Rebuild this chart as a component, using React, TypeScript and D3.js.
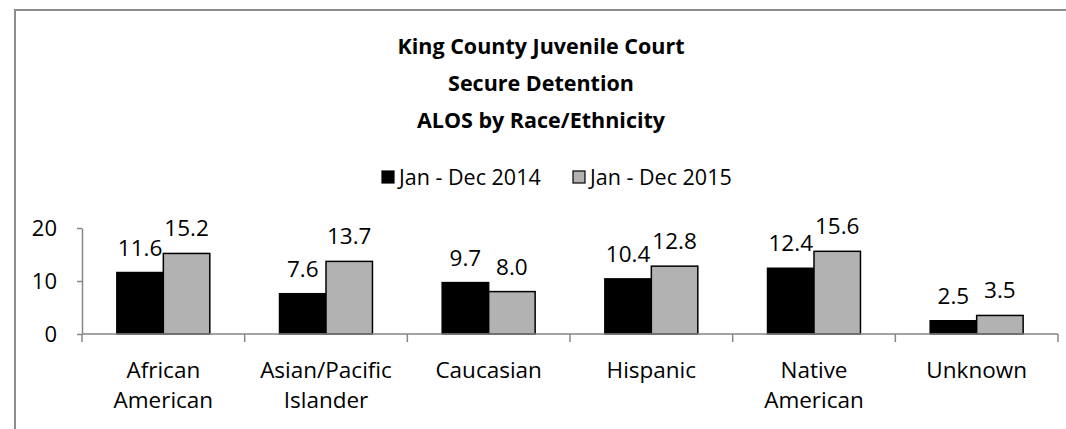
// ALOS by Race/Ethnicity grouped bar chart
import React, { useRef, useEffect } from 'react';
import * as d3 from 'd3';

const CATEGORIES = ['African American', 'Asian/Pacific Islander', 'Caucasian', 'Hispanic', 'Native American', 'Unknown'];
const CATEGORY_LINES = [['African', 'American'], ['Asian/Pacific', 'Islander'], ['Caucasian'], ['Hispanic'], ['Native', 'American'], ['Unknown']];
const SERIES = ['Jan - Dec 2014', 'Jan - Dec 2015'];
const VALUES_2014 = [11.6, 7.6, 9.7, 10.4, 12.4, 2.5];
const VALUES_2015 = [15.2, 13.7, 8.0, 12.8, 15.6, 3.5];
const Y_TICKS = [0, 10, 20];
const TITLE_LINES = ['King County Juvenile Court', 'Secure Detention', 'ALOS by Race/Ethnicity'];

const COLORS = ['#000000', '#b2b2b2'];
const FONT = "'Open Sans', 'Noto Sans', sans-serif";
const AXIS_COLOR = '#868686';

export default function App() {
  const svgRef = useRef<SVGSVGElement | null>(null);

  useEffect(() => {
    if (!svgRef.current) return;
    const svg = d3.select(svgRef.current);
    svg.selectAll('*').remove();

    const W = 1066, H = 429;
    const left = 82, right = 1058, top = 228, bottom = 334;

    // outer frame (runs off right and bottom edges)
    svg.append('rect')
      .attr('x', 15).attr('y', 10)
      .attr('width', W + 100).attr('height', H + 100)
      .attr('fill', '#fff')
      .attr('stroke', '#8c8c8c')
      .attr('stroke-width', 2);

    // title
    svg.append('g').selectAll('text')
      .data(TITLE_LINES)
      .join('text')
      .attr('x', 541)
      .attr('y', (_, i) => 54 + i * 37)
      .attr('text-anchor', 'middle')
      .style('font-family', FONT)
      .style('font-weight', '700')
      .style('font-size', '21.5px')
      .text(d => d);

    // legend
    const legendX = [382, 573];
    const legend = svg.append('g');
    SERIES.forEach((name, i) => {
      legend.append('rect')
        .attr('x', legendX[i]).attr('y', 171)
        .attr('width', 12).attr('height', 12)
        .attr('fill', COLORS[i])
        .attr('stroke', '#000')
        .attr('stroke-width', 1.2);
      legend.append('text')
        .attr('x', legendX[i] + 17).attr('y', 185)
        .style('font-family', FONT)
        .style('font-size', '21.5px')
        .text(name);
    });

    const x0 = d3.scaleBand<string>().domain(CATEGORIES).range([left, right]).paddingInner(0).paddingOuter(0);
    const x1 = d3.scaleBand<string>().domain(SERIES).range([0, x0.bandwidth()]).paddingInner(0).paddingOuter(0.75);
    const y = d3.scaleLinear().domain([0, 20]).range([bottom, top]);

    // y axis
    const yAxis = svg.append('g')
      .attr('transform', `translate(${left},0)`)
      .call(d3.axisLeft(y).tickValues(Y_TICKS).tickSize(5).tickPadding(20).tickSizeOuter(0));
    yAxis.select('.domain').attr('stroke', AXIS_COLOR).attr('stroke-width', 1.5);
    yAxis.selectAll('.tick line').attr('stroke', AXIS_COLOR).attr('stroke-width', 1.5);
    yAxis.selectAll('.tick text')
      .attr('fill', '#000')
      .style('font-family', FONT)
      .style('font-size', '22px');

    // bars
    const data = CATEGORIES.flatMap((c, ci) => [
      { cat: c, series: SERIES[0], value: VALUES_2014[ci], color: COLORS[0] },
      { cat: c, series: SERIES[1], value: VALUES_2015[ci], color: COLORS[1] },
    ]);

    svg.append('g').selectAll('rect')
      .data(data)
      .join('rect')
      .attr('x', d => (x0(d.cat) ?? 0) + (x1(d.series) ?? 0))
      .attr('y', d => y(d.value))
      .attr('width', x1.bandwidth())
      .attr('height', d => bottom - y(d.value))
      .attr('fill', d => d.color)
      .attr('stroke', '#000')
      .attr('stroke-width', 1.5);

    // value labels
    svg.append('g').selectAll('text')
      .data(data)
      .join('text')
      .attr('x', d => (x0(d.cat) ?? 0) + (x1(d.series) ?? 0) + x1.bandwidth() / 2)
      .attr('y', d => y(d.value) - 17)
      .attr('text-anchor', 'middle')
      .style('font-family', FONT)
      .style('font-size', '22.5px')
      .text(d => d.value.toFixed(1));

    // x axis
    const xAxis = svg.append('g');
    xAxis.append('line')
      .attr('x1', left).attr('x2', right)
      .attr('y1', bottom).attr('y2', bottom)
      .attr('stroke', AXIS_COLOR).attr('stroke-width', 1.5);
    const boundaries = [...CATEGORIES.map(c => x0(c) ?? 0), right];
    xAxis.selectAll('line.tick')
      .data(boundaries)
      .join('line')
      .attr('class', 'tick')
      .attr('x1', d => d).attr('x2', d => d)
      .attr('y1', bottom).attr('y2', bottom + 8)
      .attr('stroke', AXIS_COLOR).attr('stroke-width', 1.5);

    // category labels
    const catLabels = svg.append('g').selectAll('text')
      .data(CATEGORY_LINES)
      .join('text')
      .attr('text-anchor', 'middle')
      .style('font-family', FONT)
      .style('font-size', '22.5px');
    catLabels.each(function (lines, i) {
      const cx = (x0(CATEGORIES[i]) ?? 0) + x0.bandwidth() / 2;
      d3.select(this).selectAll('tspan')
        .data(lines)
        .join('tspan')
        .attr('x', cx)
        .attr('y', (_, j) => 378 + j * 30)
        .text(d => d);
    });
  }, []);

  return (
    <svg
      ref={svgRef}
      width={1066}
      height={429}
      style={{ position: 'absolute', left: 0, top: 0, background: '#fff' }}
    />
  );
}
